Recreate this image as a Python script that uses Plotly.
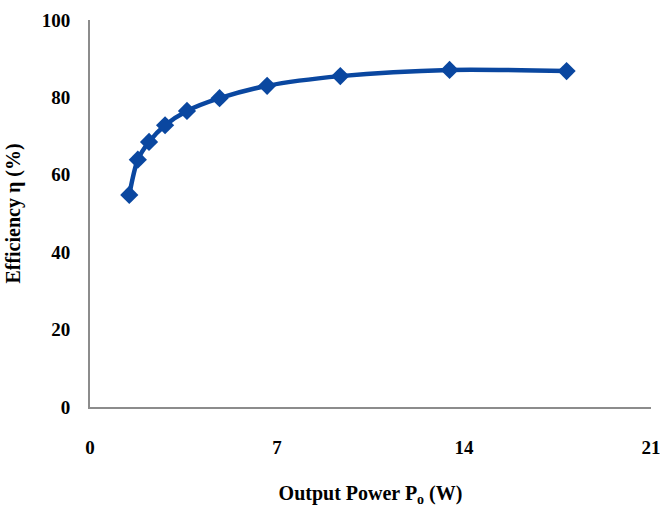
import plotly.graph_objects as go

power_w = [1.47, 1.79, 2.21, 2.81, 3.63, 4.85, 6.63, 9.37, 13.46, 17.84]
efficiency_pct = [54.8, 63.9, 68.5, 72.8, 76.5, 79.8, 83.0, 85.5, 87.1, 86.8]

x_ticks = [0, 7, 14, 21]
y_ticks = [0, 20, 40, 60, 80, 100]

blue = "#0a47a0"
font_family = "Liberation Serif"

fig = go.Figure()
fig.add_trace(go.Scatter(
    x=power_w, y=efficiency_pct,
    mode="lines+markers",
    line=dict(color=blue, width=4.5, shape="spline", smoothing=0.8),
    marker=dict(symbol="diamond", size=14, color=blue),
    showlegend=False,
))

fig.update_layout(
    width=660, height=521,
    margin=dict(l=90, r=9, t=20, b=114),
    paper_bgcolor="white", plot_bgcolor="white",
    font=dict(family=font_family, color="black"),
)
fig.update_xaxes(
    range=[0, 21], tickvals=x_ticks, showgrid=False, zeroline=False,
    showline=True, linecolor="#8c8c8c", linewidth=2,
    ticks="", ticklabelstandoff=22, automargin=False, ticklabeloverflow="allow",
    tickfont=dict(size=19, family=font_family, weight="bold"),
    title=dict(text="<b>Output Power P<sub>o</sub> (W)</b>", font=dict(size=20), standoff=29),
)
fig.update_yaxes(
    range=[0, 100], tickvals=y_ticks, showgrid=False, zeroline=False,
    showline=True, linecolor="#8c8c8c", linewidth=2,
    ticks="", ticklabelstandoff=14, automargin=False,
    tickfont=dict(size=19, family=font_family, weight="bold"),
    title=dict(text="<b>Efficiency η (%)</b>", font=dict(size=20), standoff=16),
)

fig.write_html(
    "out.html",
    config={"displayModeBar": False},
    post_script="document.body.style.margin='0';document.body.style.overflow='hidden';",
)
